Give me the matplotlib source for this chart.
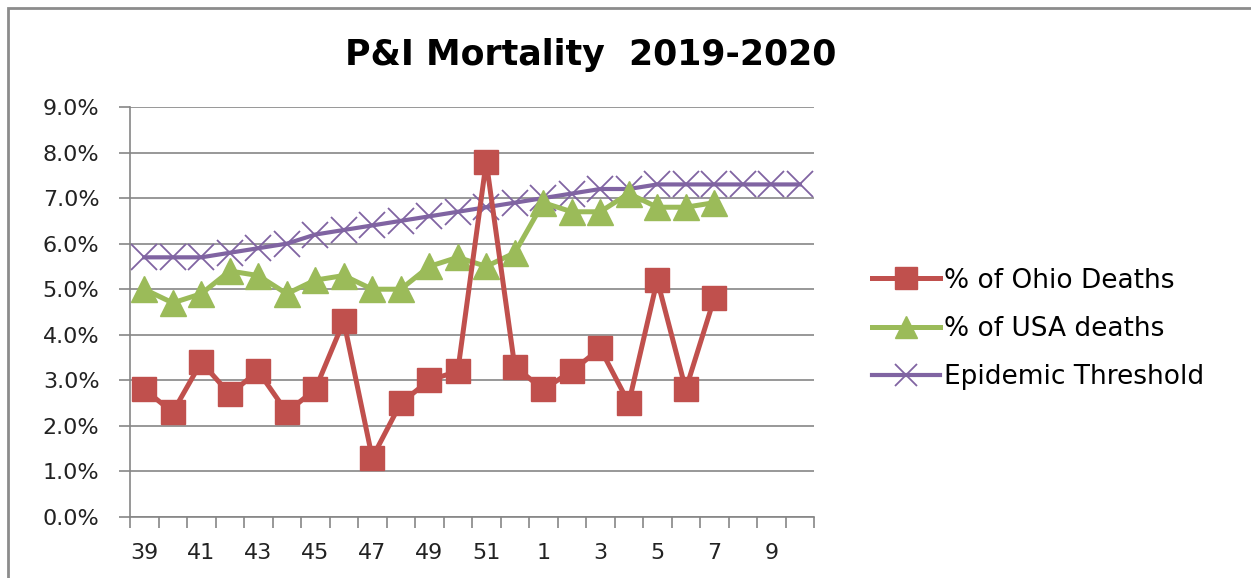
import matplotlib.pyplot as plt
from matplotlib.patches import Rectangle
from matplotlib.ticker import FuncFormatter

# weeks of the 2019-2020 season
weeks = [str(w) for w in range(39, 53)] + [str(w) for w in range(1, 11)]

ohio = [2.8, 2.3, 3.4, 2.7, 3.2, 2.3, 2.8, 4.3, 1.3, 2.5, 3.0, 3.2, 7.8, 3.3,
        2.8, 3.2, 3.7, 2.5, 5.2, 2.8, 4.8]
usa = [5.0, 4.7, 4.9, 5.4, 5.3, 4.9, 5.2, 5.3, 5.0, 5.0, 5.5, 5.7, 5.5, 5.8,
       6.9, 6.7, 6.7, 7.1, 6.8, 6.8, 6.9]
threshold = [5.7, 5.7, 5.7, 5.8, 5.9, 6.0, 6.2, 6.3, 6.4, 6.5, 6.6, 6.7, 6.8, 6.9,
             7.0, 7.1, 7.2, 7.2, 7.3, 7.3, 7.3, 7.3, 7.3, 7.3]

red = '#C0504D'
green = '#9BBB59'
purple = '#8064A2'
grid_col = '#868686'

fig = plt.figure(figsize=(12.51, 5.78), dpi=100)
ax = fig.add_axes([130 / 1251, 1 - 517 / 578, 684 / 1251, 410 / 578])

# outer chart frame
fig.patches.append(Rectangle((8 / 1251, -0.05), 1.1, 1 - 8 / 578 + 0.05,
                             transform=fig.transFigure, fill=False,
                             edgecolor='#8c8c8c', linewidth=2))

x_all = list(range(len(weeks)))
ax.plot(x_all[:len(ohio)], ohio, color=red, linewidth=3.6, marker='s',
        markersize=17, label='% of Ohio Deaths', zorder=4)
ax.plot(x_all[:len(usa)], usa, color=green, linewidth=3.6, marker='^',
        markersize=19, label='% of USA deaths', zorder=3)
ax.plot(x_all, threshold, color=purple, linewidth=3, marker='x',
        markersize=19, markeredgewidth=1.3, label='Epidemic Threshold', zorder=2)

ax.set_xlim(-0.5, len(weeks) - 0.5)
ax.set_ylim(0, 9)
ax.set_yticks([i for i in range(10)])
ax.yaxis.set_major_formatter(FuncFormatter(lambda v, p: f'{v:.1f}%'))
ax.grid(axis='y', color=grid_col, linewidth=1.2)
ax.set_axisbelow(True)

ax.set_xticks(x_all[::2])
ax.set_xticklabels(weeks[::2])
ax.set_xticks([i - 0.5 for i in range(len(weeks) + 1)], minor=True)
ax.tick_params(axis='x', which='major', length=0, pad=19)
ax.tick_params(axis='x', which='minor', length=8, color=grid_col, width=1.2)
ax.tick_params(axis='y', length=8, color=grid_col, width=1.2, pad=14)
for lab in ax.get_xticklabels() + ax.get_yticklabels():
    lab.set_fontfamily('DejaVu Sans')
    lab.set_fontsize(16)
    lab.set_color('#222222')

for s in ['top', 'right']:
    ax.spines[s].set_visible(False)
for s in ['left', 'bottom']:
    ax.spines[s].set_color(grid_col)
    ax.spines[s].set_linewidth(1.2)

fig.text(591 / 1251, 1 - 55 / 578, 'P&I Mortality  2019-2020', ha='center',
         va='center', fontsize=25, fontweight='bold', family='DejaVu Sans')

leg = fig.legend(loc='center left', bbox_to_anchor=(848 / 1251, 1 - 329 / 578),
                 frameon=False, handlelength=2.6, labelspacing=0.85,
                 handletextpad=0.15, prop={'family': 'DejaVu Sans', 'size': 19})
for h in leg.legend_handles:
    h.set_markersize(16)

fig.savefig('out.png', dpi=100)
